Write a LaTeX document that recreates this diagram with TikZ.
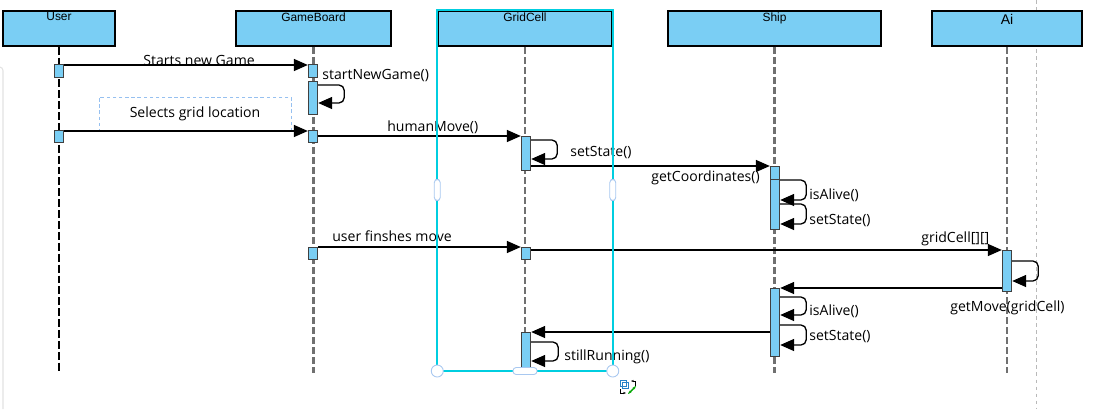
\documentclass[tikz,border=0pt]{standalone}
\usepackage{fontspec}
\setmainfont{Open Sans}
\newfontfamily\hdrfont{Liberation Sans}
\usetikzlibrary{arrows.meta}
\usetikzlibrary{calc}
\definecolor{head-blue}{RGB}{122, 206, 244}
\definecolor{life-gray}{RGB}{112, 112, 112}
\definecolor{sel-cyan}{RGB}{0, 206, 224}
\definecolor{handle-blue}{RGB}{168, 200, 240}
\definecolor{note-blue}{RGB}{150, 192, 240}
\definecolor{edge-gray}{RGB}{226, 226, 226}
\definecolor{icon-blue}{RGB}{40, 130, 200}
\newcommand{\upx}{0.02cm}
\tikzset{
  head/.style={draw=black, line width=0.85pt, fill=head-blue, inner sep=0pt, minimum height=35*\upx},
  headtext/.style={anchor=north, inner sep=0pt, font=\hdrfont\fontsize{6.8}{8}\selectfont},
  act/.style={draw=black!75, line width=0.8pt, fill=head-blue, inner sep=0pt, minimum width=9*\upx, anchor=north},
  msg/.style={line width=0.75pt, -{Triangle[length=7.9pt, width=6.8pt]}},
  selfmsg/.style={msg, rounded corners=3pt},
  lbl/.style={inner sep=0pt, anchor=base west, font=\fontsize{8}{9.5}\selectfont},
  life/.style={life-gray, line width=1.25pt, dash pattern=on 4pt off 1.7pt},
  userlife/.style={black, line width=0.7pt, dash pattern=on 4.5pt off 1.7pt},
  notebox/.style={draw=note-blue, line width=0.5pt, dash pattern=on 2pt off 1.5pt, inner sep=0pt, font=\fontsize{8}{9.5}\selectfont},
  sel/.style={sel-cyan, line width=1.15pt},
  hcircle/.style={circle, draw=handle-blue, fill=white, line width=0.5pt, inner sep=0pt, minimum size=12*\upx},
  hbar/.style={rectangle, rounded corners=1.8pt, draw=handle-blue, fill=white, line width=0.5pt, inner sep=0pt}
}
\begin{document}
\begin{tikzpicture}[x=0.02cm, y=-0.02cm]
\useasboundingbox (0,0) rectangle (1101,409);

\draw[edge-gray, line width=0.6pt, rounded corners=2pt] (0,67) -| (3,409);
\draw[gray!55, line width=0.5pt, dash pattern=on 2pt off 2pt] (1036,0) -- (1036,409);

\node[head, minimum width=112*\upx] (user) at (59,28.5) {};
\node[head, minimum width=155*\upx] (gboard) at (313.5,28.5) {};
\node[head, minimum width=174*\upx] (gcell) at (525,28.5) {};
\node[head, minimum width=213*\upx] (ship) at (774.5,28.5) {};
\node[head, minimum width=150*\upx] (ai) at (1007,28.5) {};
\node[headtext] (userT) at ([yshift=-2*\upx]user.north) {User};
\node[headtext] (gboardT) at ([yshift=-2*\upx]gboard.north) {GameBoard};
\node[headtext] (gcellT) at ([yshift=-2*\upx]gcell.north) {GridCell};
\node[headtext] (shipT) at ([yshift=-2*\upx]ship.north) {Ship};
\node[headtext, font=\hdrfont\fontsize{8}{9}\selectfont] (aiT) at ([yshift=-3.5*\upx]ai.north) {Ai};

\draw[userlife] (user.south) -- (user.south |- 0,373);
\foreach \n in {gboard,gcell,ship,ai}
  \draw[life] (\n.south) -- (\n.south |- 0,373);

\node[notebox, minimum width=192*\upx, minimum height=33*\upx] (selBox) at (195,113.5) {Selects grid location};

\node[act, minimum height=13*\upx] (u1) at (59,64) {};
\node[act, minimum height=12*\upx] (u2) at (59,130) {};
\node[act, minimum height=13*\upx] (g1) at (313,64) {};
\node[act, minimum height=33*\upx] (g2) at (313,81) {};
\node[act, minimum height=12*\upx] (g3) at (313,130) {};
\node[act, minimum height=12*\upx] (g4) at (313,247) {};
\node[act, minimum height=34*\upx] (c1) at (526,136) {};
\node[act, minimum height=12*\upx] (c2) at (526,247) {};
\node[act, minimum height=40*\upx] (c3) at (526,332) {};
\node[act, minimum height=63*\upx] (s1) at (775,166) {};
\node[act, minimum height=50*\upx] (s1b) at (775,179) {};
\node[act, minimum height=68*\upx] (s2) at (775,288) {};
\node[act, minimum height=41*\upx] (a1) at (1007,250) {};

\draw[msg] (u1.east |- 0,65) -- (g1.west |- 0,65);
\draw[selfmsg] (g2.east |- 0,85) -- ++(26,0) |- (g2.east |- 0,103);
\draw[msg] (u2.east |- 0,131) -- (g3.west |- 0,131);
\draw[msg] (g3.east |- 0,136) -- (c1.west |- 0,136);
\draw[selfmsg] (c1.east |- 0,140) -- ++(26,0) |- (c1.east |- 0,159);
\draw[msg] (c1.east |- 0,166) -- (s1.west |- 0,166);
\draw[selfmsg] (s1b.east |- 0,180) -- ++(26,0) |- (s1b.east |- 0,200);
\draw[selfmsg] (s1b.east |- 0,204) -- ++(26,0) |- (s1b.east |- 0,224);
\draw[msg] (g4.east |- 0,247) -- (c2.west |- 0,247);
\draw[msg] (c2.east |- 0,250) -- (a1.west |- 0,250);
\draw[selfmsg] (a1.east |- 0,261) -- ++(26,0) |- (a1.east |- 0,281);
\draw[msg] (a1.west |- 0,288) -- (s2.east |- 0,288);
\draw[selfmsg] (s2.east |- 0,297) -- ++(26,0) |- (s2.east |- 0,315);
\draw[selfmsg] (s2.east |- 0,325) -- ++(26,0) |- (s2.east |- 0,345);
\draw[msg] (s2.west |- 0,332) -- (c3.east |- 0,332);
\draw[selfmsg] (c3.east |- 0,342) -- ++(27,0) |- (c3.east |- 0,361);

\node[lbl] (lStarts) at (143,65) {Starts new Game};
\node[lbl] (lNewGame) at (322,79.5) {startNewGame()};
\node[lbl] (lHuman) at (387,131) {humanMove()};
\node[lbl] (lSet1) at (570,156) {setState()};
\node[lbl] (lCoord) at (651,181) {getCoordinates()};
\node[lbl] (lAlive1) at (809,199) {isAlive()};
\node[lbl] (lSet2) at (809,224) {setState()};
\node[lbl] (lFinish) at (332,241.5) {user finshes move};
\node[lbl] (lGrid) at (921,242) {gridCell[][]};
\node[lbl] (lMove) at (950,311) {getMove(gridCell)};
\node[lbl] (lAlive2) at (809,315) {isAlive()};
\node[lbl] (lSet3) at (809,340) {setState()};
\node[lbl] (lRun) at (564,360) {stillRunning()};

\draw[sel] (gcell.north west) rectangle (gcell.east |- 0,371);
\node[hcircle] (hBL) at (gcell.west |- 0,371) {};
\node[hcircle] (hBR) at (gcell.east |- 0,371) {};
\node[hbar, minimum width=24*\upx, minimum height=7*\upx] (hB) at (525,371) {};
\node[hbar, minimum width=6*\upx, minimum height=21*\upx] (hL) at (gcell.west |- 0,190) {};
\node[hbar, minimum width=6*\upx, minimum height=21*\upx] (hR) at (gcell.east |- 0,190) {};

\draw[icon-blue, line width=0.5pt] (620,380) rectangle (626,386) (622,382) rectangle (628,388);
\draw[line width=0.45pt, -{Stealth[length=1.6pt]}] (635,386) -- (635,381) -- (631,381);
\draw[line width=0.45pt, -{Stealth[length=1.6pt]}] (620,389) |- (626,393);
\draw[green!65!black, line width=0.8pt, {Stealth[length=2pt]}-{Stealth[length=2pt]}] (628,394) -- (636,386);
\end{tikzpicture}
\end{document}
